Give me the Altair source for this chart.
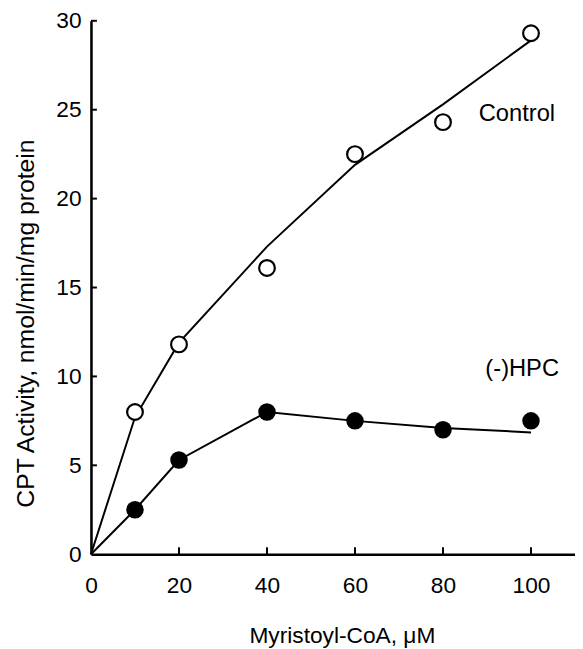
import altair as alt
import pandas as pd

# Data
conc = [10, 20, 40, 60, 80, 100]
control = [8.0, 11.8, 16.1, 22.5, 24.3, 29.3]
hpc = [2.5, 5.3, 8.0, 7.5, 7.0, 7.5]

fit_x = [0, 10, 20, 40, 60, 80, 100]
control_fit = [0, 7.7, 11.9, 17.3, 21.9, 25.3, 28.9]
hpc_fit = [0, 2.5, 5.3, 8.0, 7.5, 7.1, 6.85]

x_ticks = [0, 20, 40, 60, 80, 100]
y_ticks = [0, 5, 10, 15, 20, 25, 30]

label_text = ["Control", "(-)HPC"]
label_x = [96.8, 98.0]
label_y = [24.75, 10.4]

FONT = "Liberation Sans"
W, H = 490, 540

pts = pd.DataFrame({"x": conc, "control": control, "hpc": hpc})
fits = pd.DataFrame({"x": fit_x, "control": control_fit, "hpc": hpc_fit})
labels = pd.DataFrame({"t": label_text, "x": label_x, "y": label_y})
xt = pd.DataFrame({"v": x_ticks[1:]})
yt = pd.DataFrame({"v": y_ticks[1:]})

xs = alt.Scale(domain=[0, 110], nice=False, zero=False)
ys = alt.Scale(domain=[0, 30], nice=False)

common = dict(
    ticks=False, grid=False, domainColor="black", domainWidth=2.6,
    labelColor="black", labelFont=FONT, labelFontSize=23, labelFlush=False,
    labelOverlap=False,
    titleFont=FONT, titleColor="black", titleFontWeight="normal",
    titleAlign="center", titleBaseline="middle",
)

xaxis = alt.Axis(
    values=x_ticks, labelPadding=21,
    title="Myristoyl-CoA, μM", titleX=254, titleY=82, titleFontSize=23,
    **common,
)
yaxis = alt.Axis(
    values=y_ticks, labelPadding=10,
    title="CPT Activity, nmol/min/mg protein", titleX=-66, titleY=306,
    titleAngle=270, titleFontSize=25,
    **common,
)

base_fit = alt.Chart(fits)
line_c = base_fit.mark_line(color="black", strokeWidth=2).encode(
    x=alt.X("x:Q", scale=xs, axis=xaxis), y=alt.Y("control:Q", scale=ys, axis=yaxis)
)
line_h = base_fit.mark_line(color="black", strokeWidth=2).encode(
    x=alt.X("x:Q", scale=xs), y=alt.Y("hpc:Q", scale=ys)
)

base_pts = alt.Chart(pts)
pt_c = base_pts.mark_circle(size=254, opacity=1, fill="white", stroke="black", strokeWidth=2.2).encode(
    x=alt.X("x:Q", scale=xs), y=alt.Y("control:Q", scale=ys)
)
pt_h = base_pts.mark_circle(size=314, opacity=1, color="black").encode(
    x=alt.X("x:Q", scale=xs), y=alt.Y("hpc:Q", scale=ys)
)

xtick = alt.Chart(xt).mark_rule(color="black", strokeWidth=2).encode(
    x=alt.X("v:Q", scale=xs), y=alt.value(H), y2=alt.value(H - 7)
)
ytick = alt.Chart(yt).mark_rule(color="black", strokeWidth=2).encode(
    y=alt.Y("v:Q", scale=ys), x=alt.value(0), x2=alt.value(6)
)

txt = alt.Chart(labels).mark_text(
    font=FONT, fontSize=24, color="black", align="center", baseline="middle"
).encode(x=alt.X("x:Q", scale=xs), y=alt.Y("y:Q", scale=ys), text="t:N")

chart = alt.layer(line_c, line_h, xtick, ytick, pt_c, pt_h, txt).properties(
    width=W, height=H,
    autosize=alt.AutoSizeParams(type="none"),
    padding={"left": 84, "top": 9, "right": 0, "bottom": 93},
    background="white",
).configure_view(stroke=None)

chart.save("out.html", embed_options={"renderer": "svg", "actions": False})
